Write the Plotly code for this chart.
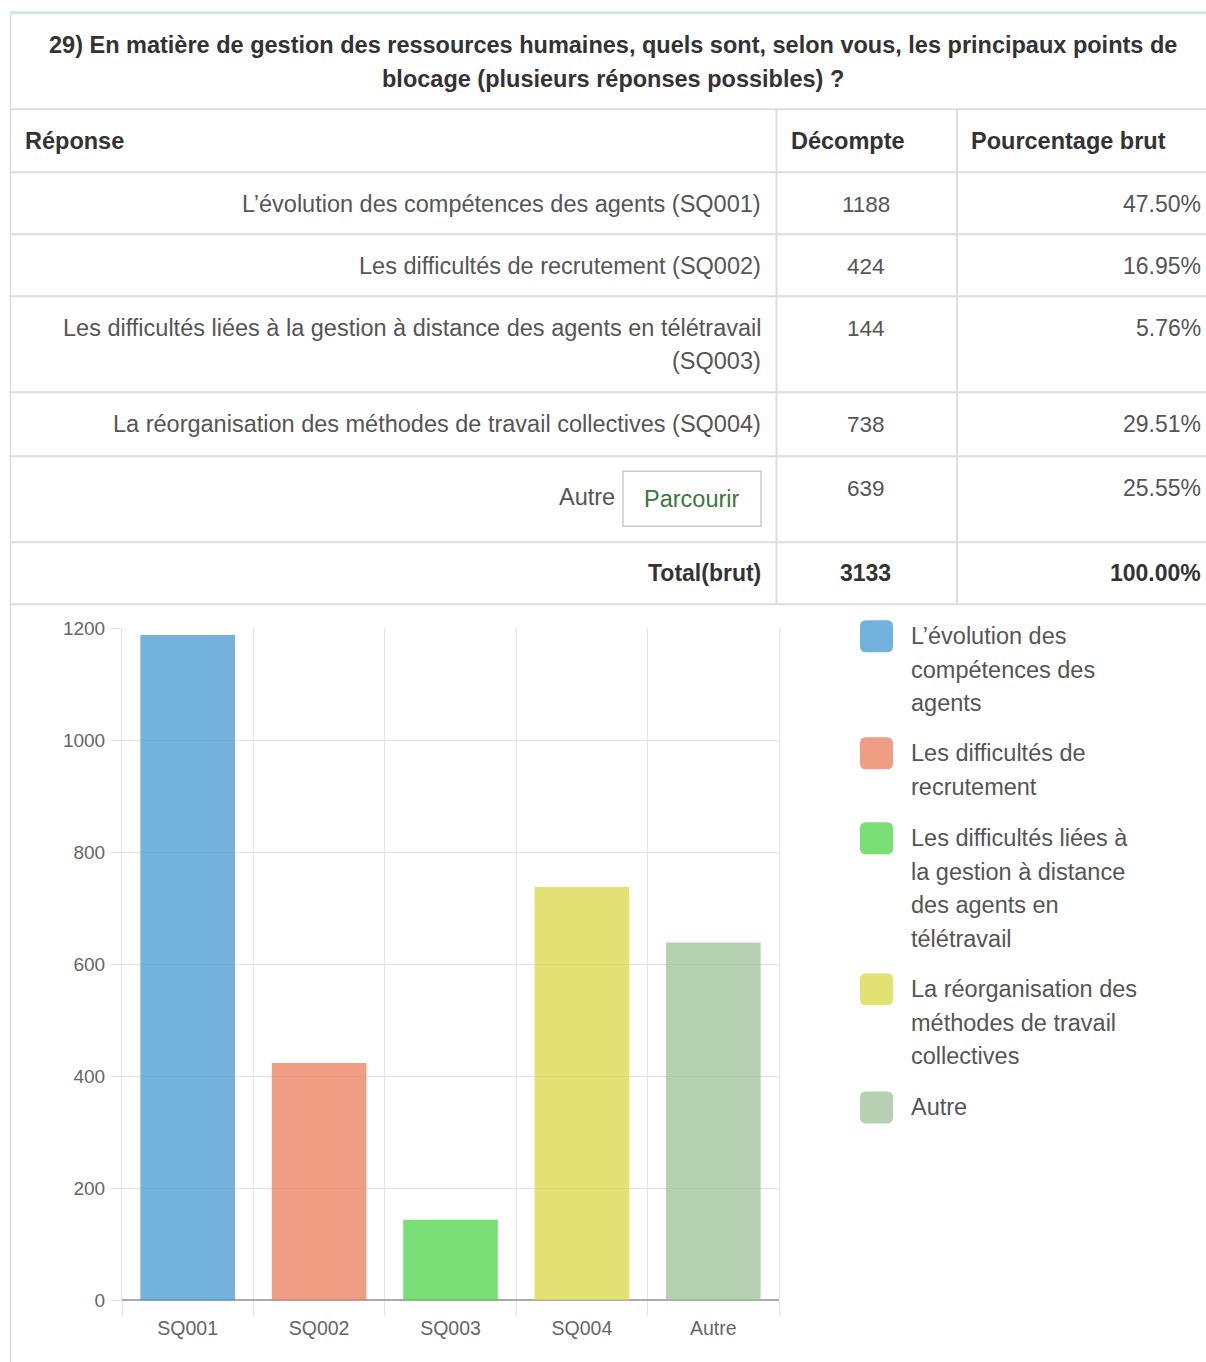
import plotly.graph_objects as go

# ---------------- data ----------------
question = ["29) En matière de gestion des ressources humaines, quels sont, selon vous, les principaux points de",
            "blocage (plusieurs réponses possibles) ?"]
headers = ["Réponse", "Décompte", "Pourcentage brut"]
responses = ["L’évolution des compétences des agents (SQ001)",
             "Les difficultés de recrutement (SQ002)",
             "Les difficultés liées à la gestion à distance des agents en télétravail<br>(SQ003)",
             "La réorganisation des méthodes de travail collectives (SQ004)",
             "Autre"]
codes = ["SQ001", "SQ002", "SQ003", "SQ004", "Autre"]
counts = [1188, 424, 144, 738, 639]
percents = ["47.50%", "16.95%", "5.76%", "29.51%", "25.55%"]
total_label = "Total(brut)"
total_count = 3133
total_percent = "100.00%"
browse_label = "Parcourir"
legend_labels = ["L’évolution des<br>compétences des<br>agents",
                 "Les difficultés de<br>recrutement",
                 "Les difficultés liées à<br>la gestion à distance<br>des agents en<br>télétravail",
                 "La réorganisation des<br>méthodes de travail<br>collectives",
                 "Autre"]
colors = ["rgba(67,152,208,0.75)", "rgba(235,126,90,0.75)", "rgba(78,211,72,0.75)",
          "rgba(216,216,70,0.75)", "rgba(158,192,152,0.75)"]
y_ticks = [0, 200, 400, 600, 800, 1000, 1200]

# ---------------- page geometry ----------------
W = 1206
S = 0.9845     # vertical scale observed between page and picture
YOFF = 10      # page offset of the figure in the browser
H = 1374
FONT = "Liberation Sans, Arial, sans-serif"


def px(x):
    return x / W


def py(y):
    return 1 - (y / S - YOFF) / H


fig = go.Figure()

fig.add_trace(go.Bar(
    x=codes, y=counts, width=0.72,
    marker=dict(color=colors, line=dict(width=0)),
    showlegend=False, hoverinfo="x+y",
))

shapes = []
ann = []
GRID = "#dddddd"

# page/table borders
shapes.append(dict(type="line", xref="paper", yref="paper", x0=px(10), x1=px(1206), y0=py(12.5), y1=py(12.5),
                   line=dict(color="#d3e6d3", width=3)))
shapes.append(dict(type="line", xref="paper", yref="paper", x0=px(10.5), x1=px(10.5), y0=py(14), y1=0,
                   line=dict(color=GRID, width=1.5)))
for yy in [109, 172, 234, 296, 392, 456, 542, 604]:
    shapes.append(dict(type="line", xref="paper", yref="paper", x0=px(10), x1=px(1206), y0=py(yy), y1=py(yy),
                       line=dict(color=GRID, width=2)))
for xx in [776.5, 957]:
    shapes.append(dict(type="line", xref="paper", yref="paper", x0=px(xx), x1=px(xx), y0=py(109), y1=py(604),
                       line=dict(color=GRID, width=2)))

# title
for i, line in enumerate(question):
    ann.append(dict(xref="paper", yref="paper", x=px(613), y=py(45 + 34 * i), text="<b>" + line + "</b>",
                    showarrow=False, xanchor="center", yanchor="middle",
                    font=dict(family=FONT, size=23.5, color="#333333")))

# headers
hdr_x = [23, 789, 969]
for hx, h in zip(hdr_x, headers):
    ann.append(dict(xref="paper", yref="paper", x=px(hx), y=py(141), text="<b>" + h + "</b>",
                    showarrow=False, xanchor="left", yanchor="middle",
                    font=dict(family=FONT, size=23.5, color="#333333")))

TXT = "#555555"
row_tops = [172, 234, 296, 392, 456]
for i, (top, r, c, p) in enumerate(zip(row_tops, responses, counts, percents)):
    lines = r.split("<br>")
    if i == 4:
        # "Autre" with browse button
        ann.append(dict(xref="paper", yref="paper", x=px(617), y=py(top + 41), text=lines[0],
                        showarrow=False, xanchor="right", yanchor="middle",
                        font=dict(family=FONT, size=23.5, color=TXT)))
        shapes.append(dict(type="rect", xref="paper", yref="paper", x0=px(623), x1=px(761),
                           y0=py(471), y1=py(526), line=dict(color="#cccccc", width=1.5),
                           fillcolor="white"))
        ann.append(dict(xref="paper", yref="paper", x=px(692), y=py(499), text=browse_label,
                        showarrow=False, xanchor="center", yanchor="middle",
                        font=dict(family=FONT, size=23.5, color="#3c763d")))
    else:
        for j, ln in enumerate(lines):
            ann.append(dict(xref="paper", yref="paper", x=px(763), y=py(top + 32 + 33 * j), text=ln,
                            showarrow=False, xanchor="right", yanchor="middle",
                            font=dict(family=FONT, size=23.5, color=TXT)))
    ann.append(dict(xref="paper", yref="paper", x=px(866), y=py(top + 32), text=str(c),
                    showarrow=False, xanchor="center", yanchor="middle",
                    font=dict(family=FONT, size=22.5, color=TXT)))
    ann.append(dict(xref="paper", yref="paper", x=px(1203), y=py(top + 32), text=p,
                    showarrow=False, xanchor="right", yanchor="middle",
                    font=dict(family=FONT, size=23, color=TXT)))

# total row
for xx, t, anc in [(763, total_label, "right"), (866, str(total_count), "center"), (1203, total_percent, "right")]:
    ann.append(dict(xref="paper", yref="paper", x=px(xx), y=py(573), text="<b>" + t + "</b>",
                    showarrow=False, xanchor=anc, yanchor="middle",
                    font=dict(family=FONT, size=23, color="#333333")))

# custom legend
leg_tops = [620, 737, 822, 973, 1091]
for top, lab, col in zip(leg_tops, legend_labels, colors):
    x0, x1, y0, y1, r = 860, 893, top, top + 32, 6
    path = (f"M {px(x0 + r)} {py(y0)} L {px(x1 - r)} {py(y0)} Q {px(x1)} {py(y0)} {px(x1)} {py(y0 + r)} "
            f"L {px(x1)} {py(y1 - r)} Q {px(x1)} {py(y1)} {px(x1 - r)} {py(y1)} "
            f"L {px(x0 + r)} {py(y1)} Q {px(x0)} {py(y1)} {px(x0)} {py(y1 - r)} "
            f"L {px(x0)} {py(y0 + r)} Q {px(x0)} {py(y0)} {px(x0 + r)} {py(y0)} Z")
    shapes.append(dict(type="path", xref="paper", yref="paper", path=path, fillcolor=col,
                       line=dict(width=0)))
    for j, ln in enumerate(lab.split("<br>")):
        ann.append(dict(xref="paper", yref="paper", x=px(909), y=py(top + 16 + 33.5 * j), text=ln,
                        showarrow=False, xanchor="left", yanchor="middle",
                        font=dict(family=FONT, size=23.5, color="#555555")))

fig.update_layout(
    width=W, height=H,
    margin=dict(l=0, r=0, t=0, b=0),
    paper_bgcolor="white", plot_bgcolor="white",
    shapes=shapes, annotations=ann,
    xaxis=dict(domain=[px(122), px(779)], type="category", tickson="boundaries",
               showgrid=True, gridcolor="#e4e4e4", gridwidth=1,
               ticks="outside", ticklen=15, tickcolor="#e4e4e4", ticklabelstandoff=14,
               tickfont=dict(family=FONT, size=19.5, color="#666666"),
               showline=False, zeroline=False, fixedrange=True, anchor="y"),
    yaxis=dict(domain=[py(1300), py(628)], range=[0, 1200], tickvals=y_ticks,
               showgrid=True, gridcolor="#e4e4e4", gridwidth=1,
               ticks="outside", ticklen=12, tickcolor="#e4e4e4",
               tickfont=dict(family=FONT, size=19, color="#666666"),
               zeroline=True, zerolinecolor="#aaaaaa", zerolinewidth=1.5,
               showline=True, linecolor="#e4e4e4", linewidth=1, mirror=True,
               fixedrange=True, anchor="x"),
)

fig.write_html("out.html",
               config={"displayModeBar": False},
               post_script="document.body.style.margin='0';"
                           "document.documentElement.style.overflow='hidden';"
                           "document.body.style.overflow='hidden';")
